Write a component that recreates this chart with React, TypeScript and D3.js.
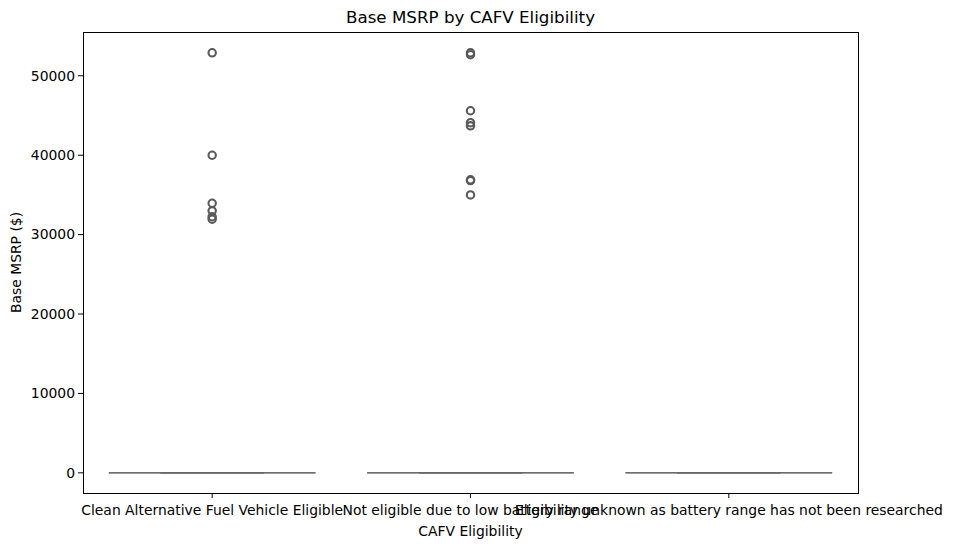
import React from "react";
import * as d3 from "d3";

// categories on the x axis
const categories = [
  "Clean Alternative Fuel Vehicle Eligible",
  "Not eligible due to low battery range",
  "Eligibility unknown as battery range has not been researched",
];

// box stats per category: q1, median, q3, lower whisker, upper whisker
const q1 = [0, 0, 0];
const medians = [0, 0, 0];
const q3 = [0, 0, 0];
const whiskLo = [0, 0, 0];
const whiskHi = [0, 0, 0];

// outliers per category
const outliers = [
  [52900, 39995, 33950, 32995, 32250, 31950],
  [52900, 52650, 45600, 44100, 43700, 36900, 36800, 34995],
  [],
];

const yTicks = [0, 10000, 20000, 30000, 40000, 50000];

function App() {
  const width = 953;
  const height = 547;
  const margin = { top: 32, right: 95, bottom: 54, left: 83 };
  const iw = width - margin.left - margin.right;
  const ih = height - margin.top - margin.bottom;

  const maxV = d3.max(outliers.flat()) ?? 1;
  const pad = maxV * 0.048;
  const y = d3.scaleLinear().domain([-pad, maxV + pad * 1.03]).range([ih, 0]);
  const x = d3.scaleLinear().domain([-0.5, categories.length - 0.5]).range([0, iw]);

  const boxW = 0.8;
  const capW = 0.4;
  const lineColor = "#666666";
  const font = "DejaVu Sans, sans-serif";

  return (
    <svg
      width={width}
      height={height}
      style={{ position: "absolute", left: 0, top: 0, background: "#fff" }}
      fontFamily={font}
    >
      <text x={margin.left + iw / 2} y={23} textAnchor="middle" fontSize={16.7} fill="#000">
        Base MSRP by CAFV Eligibility
      </text>
      <g transform={`translate(${margin.left},${margin.top})`}>
        {categories.map((c, i) => (
          <g key={c}>
            {/* box outline (flat) */}
            <rect
              x={x(i - boxW / 2)}
              y={y(q3[i])}
              width={x(i + boxW / 2) - x(i - boxW / 2)}
              height={Math.max(y(q1[i]) - y(q3[i]), 0)}
              fill="#8da0cb"
              stroke="none"
            />
            <line x1={x(i - boxW / 2)} x2={x(i + boxW / 2)} y1={y(q1[i])} y2={y(q1[i])} stroke={lineColor} strokeWidth={1.5} strokeOpacity={0.8} />
            <line x1={x(i - boxW / 2)} x2={x(i + boxW / 2)} y1={y(medians[i])} y2={y(medians[i])} stroke={lineColor} strokeWidth={1.5} strokeOpacity={0.8} />
            {/* whiskers */}
            <line x1={x(i)} x2={x(i)} y1={y(q3[i])} y2={y(whiskHi[i])} stroke={lineColor} strokeWidth={1.5} />
            <line x1={x(i)} x2={x(i)} y1={y(q1[i])} y2={y(whiskLo[i])} stroke={lineColor} strokeWidth={1.5} />
            {/* caps */}
            <line x1={x(i - capW / 2)} x2={x(i + capW / 2)} y1={y(whiskHi[i])} y2={y(whiskHi[i])} stroke={lineColor} strokeWidth={1.5} strokeOpacity={0.8} />
            <line x1={x(i - capW / 2)} x2={x(i + capW / 2)} y1={y(whiskLo[i])} y2={y(whiskLo[i])} stroke={lineColor} strokeWidth={1.5} strokeOpacity={0.8} />
            {outliers[i].map((v, j) => (
              <circle key={j} cx={x(i)} cy={y(v)} r={3.7} fill="none" stroke="#5a5a5a" strokeWidth={2.1} />
            ))}
          </g>
        ))}

        {/* frame */}
        <rect x={0} y={0} width={iw} height={ih} fill="none" stroke="#000" strokeWidth={1} shapeRendering="crispEdges" />

        {/* y axis */}
        {yTicks.map((t) => (
          <g key={t} transform={`translate(0,${y(t)})`}>
            <line x1={-5} x2={0} stroke="#000" strokeWidth={1} />
            <text x={-8} dy="0.35em" textAnchor="end" fontSize={13.9} fill="#000">
              {t}
            </text>
          </g>
        ))}

        {/* x axis */}
        {categories.map((c, i) => (
          <g key={c} transform={`translate(${x(i)},${ih})`}>
            <line y1={0} y2={5} stroke="#000" strokeWidth={1} />
            <text y={22} textAnchor="middle" fontSize={13.9} fill="#000">
              {c}
            </text>
          </g>
        ))}

        <text x={iw / 2} y={ih + 43} textAnchor="middle" fontSize={13.9} fill="#000">
          CAFV Eligibility
        </text>
        <text transform={`translate(${-62},${ih / 2}) rotate(-90)`} textAnchor="middle" fontSize={13.9} fill="#000">
          Base MSRP ($)
        </text>
      </g>
    </svg>
  );
}

export default App;
